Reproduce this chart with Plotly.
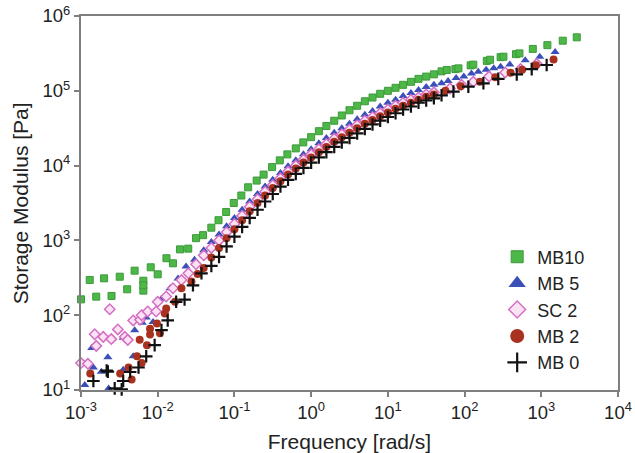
import plotly.graph_objects as go

# ---------------- data ----------------
mb10_freq = [0.001, 0.0013, 0.00158, 0.002, 0.0025, 0.0032, 0.004, 0.005, 0.0065, 0.0065, 0.0065, 0.0081,
             0.01, 0.013, 0.0158, 0.0195, 0.025,
             0.0316, 0.039, 0.05, 0.062, 0.078, 0.098, 0.123, 0.151, 0.195, 0.24, 0.31, 0.39, 0.49, 0.63, 0.79,
             1.0, 1.26, 1.58, 2.0, 2.51, 3.16, 3.98, 5.01, 6.31, 7.94, 10, 12.6, 15.8, 20, 25.1, 31.6, 39.8, 50.1,
             58.6, 75.9, 83.2, 120, 130, 195, 215, 295, 321, 468, 519, 775, 1200, 1905, 2900]
mb10_g = [163, 296, 177, 311, 181, 327, 222, 394, 289, 213, 251, 437, 352, 577, 494, 759, 776,
          1072, 1175, 1479, 1862, 2399, 3162, 3981, 5129, 6310, 7586, 9550, 11750, 14125, 16980, 20420,
          23990, 28840, 33880, 39810, 46770, 54950, 63100, 72440, 81280, 91200, 100000, 109650, 120230,
          131830, 144540, 154880, 165960, 181970,
          189670, 195000, 199500, 218800, 223900, 251200, 260000, 281800, 285800, 309000, 316200, 363100,
          407400, 467700, 518800]

mb5_freq = [0.00112, 0.00138, 0.00145, 0.00184, 0.00224, 0.00229, 0.00355, 0.00355, 0.00479, 0.00501,
            0.0063, 0.00708, 0.0087, 0.0091, 0.0112, 0.0145, 0.0184, 0.0234, 0.0302,
            0.0398, 0.05, 0.063, 0.079, 0.1, 0.126, 0.158, 0.2, 0.251, 0.316, 0.398, 0.5, 0.631, 0.794,
            1.0, 1.26, 1.58, 2.0, 2.51, 3.16, 3.98, 5.01, 6.31, 7.94, 10, 12.6, 15.8, 20, 25.1, 31.6, 39.8,
            50.1, 61.0, 77.6, 97.7, 123, 151, 191, 240, 295, 389, 617, 955, 1514]
mb5_g = [11.7, 36.3, 20.0, 17.6, 27.5, 10.5, 18.6, 50.1, 28.2, 63.1, 79.4, 93.3, 81.3, 112, 166, 229, 309,
         447, 550,
         741, 955, 1202, 1549, 1995, 2570, 3311, 4169, 5248, 6457, 7943, 9772, 11750, 14130,
         16600, 19950, 23440, 27540, 31620, 36310, 41690, 47860, 53700, 61660, 69180, 75860, 85110, 93330,
         102300, 112200, 120200,
         125900, 134900, 147900, 154900, 169800, 179900, 190500, 199500, 208900, 223900, 257000, 285100,
         331100]

sc2_freq = [0.001, 0.00123, 0.00151, 0.00158, 0.00195, 0.00237, 0.00248, 0.00302, 0.00372, 0.00407,
            0.00479, 0.00589, 0.00617, 0.00741, 0.00955, 0.01, 0.0129, 0.0158, 0.0204, 0.0251, 0.0316,
            0.0398, 0.05, 0.063, 0.079, 0.1, 0.126, 0.158, 0.2, 0.251, 0.316, 0.398, 0.5, 0.631, 0.794,
            1.0, 1.26, 1.58, 2.0, 2.51, 3.16, 3.98, 5.01, 6.31, 7.94, 10, 12.6, 15.8, 20, 25.1, 31.6, 39.8,
            64.6, 91.2, 130, 209, 339, 537, 871]
sc2_g = [22.9, 22.4, 55.6, 38.9, 51.3, 120, 47.9, 64.6, 51.3, 46.8, 85.1, 87.1, 100, 112, 112, 151, 178,
         229, 295, 363, 479,
         631, 794, 1000, 1288, 1660, 2138, 2818, 3548, 4467, 5495, 6761, 8318, 10000, 12020,
         14130, 16600, 19500, 22910, 26300, 30200, 34670, 39810, 44670, 50120, 56230, 63100, 69180, 75860,
         81280, 89130, 95500,
         107200, 120200, 131800, 154900, 175800, 195000, 229100]

mb2_freq = [0.00098, 0.00132, 0.00324, 0.00316, 0.00417, 0.00457, 0.00537, 0.00617, 0.00582, 0.00724,
            0.00794, 0.00794, 0.00977, 0.0107, 0.0124, 0.0129, 0.0168, 0.0204, 0.0275, 0.0331,
            0.0398, 0.05, 0.063, 0.079, 0.1, 0.126, 0.158, 0.2, 0.251, 0.316, 0.398, 0.5, 0.631, 0.794,
            1.0, 1.26, 1.58, 2.0, 2.51, 3.16, 3.98, 5.01, 6.31, 7.94, 10, 12.6, 15.8, 20, 25.1, 31.6, 39.8,
            56.2, 89.1, 158, 251, 398, 562, 851, 1445]
mb2_g = [27.9, 16.6, 16.6, 9.8, 20.0, 13.8, 28.2, 22.9, 46.8, 39.8, 55.0, 66.1, 77.6, 57.5, 105, 123, 151,
         229, 282, 355,
         427, 589, 794, 1072, 1413, 1862, 2455, 3162, 3981, 5012, 6166, 7586, 9120, 10960,
         12880, 15140, 17780, 20890, 23990, 27540, 31620, 36310, 40740, 45710, 51290, 57540, 63100, 69180,
         75860, 83180, 89130,
         100000, 114800, 131800, 151400, 173800, 190500, 218800, 263000]

mb0_freq = [0.00145, 0.00216, 0.00224, 0.00275, 0.00339, 0.00355, 0.00437, 0.00562, 0.00708, 0.00912,
            0.0112, 0.0135, 0.0174, 0.0224, 0.0288, 0.0372, 0.05,
            0.063, 0.079, 0.1, 0.126, 0.158, 0.2, 0.251, 0.316, 0.398, 0.5, 0.631, 0.794,
            1.0, 1.26, 1.58, 2.0, 2.51, 3.16, 3.98, 5.01, 6.31, 7.94, 10, 12.6, 15.8, 20, 25.1, 31.6, 39.8,
            50.1, 71.6, 112, 176, 275, 479, 750, 1175]
mb0_g = [13.2, 18.2, 17.6, 10.5, 10.2, 13.2, 17.4, 20.0, 28.2, 39.8, 63.1, 85.1, 151, 162, 251, 363, 457,
         603, 832, 1122, 1514, 1995, 2570, 3311, 4169, 5248, 6457, 7762, 9333,
         10960, 12880, 15140, 17780, 20420, 23440, 26920, 30900, 35480, 39810, 44670, 50120, 56230, 61660,
         69180, 74130, 79430,
         87100, 97700, 113500, 125900, 144500, 166000, 195000, 221300]

series_names = ["MB10", "MB 5", "SC 2", "MB 2", "MB 0"]
x_tickvals = [1e-3, 1e-2, 1e-1, 1, 10, 100, 1000, 10000]
x_ticktext = ["10<sup>-3</sup>", "10<sup>-2</sup>", "10<sup>-1</sup>", "10<sup>0</sup>",
              "10<sup>1</sup>", "10<sup>2</sup>", "10<sup>3</sup>", "10<sup>4</sup>"]
y_tickvals = [10, 100, 1000, 10000, 100000, 1000000]
y_ticktext = ["10<sup>1</sup>", "10<sup>2</sup>", "10<sup>3</sup>", "10<sup>4</sup>",
              "10<sup>5</sup>", "10<sup>6</sup>"]

# ---------------- styles ----------------
FONT = "Liberation Sans, Arial"
TXT = "#222222"
styles = [
    dict(symbol="square", color="#4DB848", line=dict(color="#3C9A3A", width=1), size=7, lsize=12),
    dict(symbol="triangle-up", color="#3B4FB8", line=dict(color="#3B4FB8", width=0), size=8, lsize=15),
    dict(symbol="diamond", color="#FBE3F3", line=dict(color="#D46FC4", width=1.5), size=8, lsize=13),
    dict(symbol="circle", color="#A8321F", line=dict(color="#A8321F", width=0), size=8, lsize=14),
    dict(symbol="cross-thin", color="#111111", line=dict(color="#111111", width=2.2), size=9, lsize=14),
]
data = [(mb10_freq, mb10_g), (mb5_freq, mb5_g), (sc2_freq, sc2_g), (mb2_freq, mb2_g), (mb0_freq, mb0_g)]

fig = go.Figure()
for name, (fx, gy), st in zip(series_names, data, styles):
    fig.add_trace(go.Scatter(
        x=fx, y=gy, mode="markers", name=name, showlegend=False, cliponaxis=False,
        marker=dict(symbol=st["symbol"], color=st["color"], size=st["size"], line=st["line"]),
    ))
for name, st in zip(series_names, styles):
    fig.add_trace(go.Scatter(
        x=[None], y=[None], mode="markers", name=name, showlegend=True,
        marker=dict(symbol=st["symbol"], color=st["color"], size=st["lsize"], line=st["line"]),
    ))

axis_common = dict(
    type="log", showgrid=False, zeroline=False, showline=True, linecolor="#7F7F7F", linewidth=2,
    mirror=True, ticks="outside", ticklen=5, tickwidth=1.5, tickcolor="#7F7F7F", automargin=False,
    tickfont=dict(family=FONT, size=18.5, color=TXT),
)
fig.update_xaxes(**axis_common, range=[-3, 4], tickvals=x_tickvals, ticktext=x_ticktext,
                 title=dict(text="Frequency [rad/s]", font=dict(family=FONT, size=21, color=TXT)))
fig.update_yaxes(**axis_common, range=[1, 6], tickvals=y_tickvals, ticktext=y_ticktext)

fig.add_annotation(text="Storage Modulus [Pa]", xref="paper", yref="paper", x=-0.113, y=0.5,
                   xanchor="center", yanchor="middle", textangle=-90, showarrow=False,
                   font=dict(family=FONT, size=21, color=TXT))

fig.update_layout(
    width=635, height=453,
    margin=dict(l=81, r=17, t=16, b=63, autoexpand=False),
    paper_bgcolor="white", plot_bgcolor="white",
    legend=dict(x=0.775, y=0.405, xanchor="left", yanchor="top", bgcolor="rgba(0,0,0,0)",
                font=dict(family=FONT, size=18, color=TXT),
                itemwidth=30, tracegroupgap=0),
    showlegend=True,
)

fig.write_html("out.html")
